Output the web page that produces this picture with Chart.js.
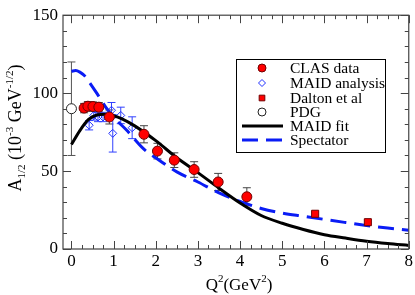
<!DOCTYPE html>
<html>
<head>
<meta charset="utf-8">
<script src="https://cdn.jsdelivr.net/npm/chart.js@4"></script>
<style>
  body { margin: 0; background: #fff; }
  canvas { display: block; }
</style>
</head>
<body>
<canvas id="chart" width="415" height="295"></canvas>
<script>
// CLAS data (red circles)
const clasQ2 = [0.30, 0.39, 0.51, 0.65, 0.90, 1.72, 2.04, 2.44, 2.91, 3.48, 4.16];
const clasA = [90.4, 91.6, 91.4, 91.0, 84.7, 73.6, 62.8, 57.0, 51.0, 43.0, 33.5];
const clasErr = [3, 3, 3, 3, 4.5, 5.5, 5, 4.7, 5, 5.5, 5.8];

// MAID analysis (open diamonds)
const maidQ2 = [0.42, 0.53, 0.63, 0.75, 0.95, 0.98, 1.17, 1.44];
const maidA = [79.4, 85.7, 84.7, 84.7, 89.0, 74.2, 85.7, 77.8];
const maidErr = [3, 3, 3, 3, 5, 12, 5.3, 7];

// Dalton et al (red squares)
const daltonQ2 = [5.78, 7.03];
const daltonA = [22.6, 17.2];

// PDG (open circle)
const pdgQ2 = [0];
const pdgA = [90];
const pdgErr = [30];

// MAID fit (black curve)
const fitQ2 = [0, 0.2, 0.4, 0.6, 0.8, 1.0, 1.2, 1.5, 2.0, 2.5, 3.0, 3.5, 4.0, 4.5, 5.0, 5.5, 6.0, 6.5, 7.0, 7.5, 8.0];
const fitA = [67, 76, 83, 86, 86.5, 85.5, 83.5, 79, 69.5, 58.5, 49, 39, 29.5, 21.5, 16.5, 12.5, 9.2, 7, 5, 3.5, 2.3];

// Spectator (blue dashed curve)
const specQ2 = [0, 0.1, 0.2, 0.3, 0.45, 0.6, 0.8, 1.0, 1.3, 1.7, 2.0, 2.5, 3.0, 3.5, 4.0, 4.5, 5.0, 5.5, 6.0, 6.5, 7.0, 7.5, 8.0];
const specA = [114, 114.5, 113.5, 111.5, 106, 100, 91.5, 84.5, 76.5, 64.5, 58.5, 49.5, 43, 36, 30.5, 26, 23, 21, 19, 17, 15, 13.5, 12];

// axis ticks
const xTicks = [0, 1, 2, 3, 4, 5, 6, 7, 8];
const yTicks = [0, 50, 100, 150];

const pts = (xs, ys) => xs.map((x, i) => ({ x: x, y: ys[i] }));
const serif = 'Liberation Serif';

// error bars, drawn under the markers
const errorBars = {
  id: 'errorBars',
  beforeDatasetsDraw(chart) {
    const ctx = chart.ctx;
    const xs = chart.scales.x, ys = chart.scales.y;
    chart.data.datasets.forEach(ds => {
      if (!ds.errors) return;
      ctx.save();
      ctx.strokeStyle = ds.errColor;
      ctx.lineWidth = 1;
      ds.data.forEach((p, i) => {
        const px = xs.getPixelForValue(p.x);
        const y1 = ys.getPixelForValue(p.y - ds.errors[i]);
        const y2 = ys.getPixelForValue(p.y + ds.errors[i]);
        ctx.beginPath();
        ctx.moveTo(px, y1); ctx.lineTo(px, y2);
        ctx.moveTo(px - 4, y1); ctx.lineTo(px + 4, y1);
        ctx.moveTo(px - 4, y2); ctx.lineTo(px + 4, y2);
        ctx.stroke();
      });
      ctx.restore();
    });
  }
};

// frame, inward ticks, axis titles and legend box
const decor = {
  id: 'decor',
  afterDraw(chart) {
    const ctx = chart.ctx;
    const a = chart.chartArea;
    const xs = chart.scales.x, ys = chart.scales.y;
    ctx.save();
    ctx.strokeStyle = '#444';
    ctx.lineWidth = 1.2;
    ctx.strokeRect(a.left, a.top, a.right - a.left, a.bottom - a.top);
    ctx.lineWidth = 1;
    ctx.beginPath();
    for (let v = 0; v <= 8.001; v += 0.25) {
      const px = Math.round(xs.getPixelForValue(v)) + 0.5;
      const len = Math.abs(v - Math.round(v)) < 1e-6 ? 8 : 4;
      ctx.moveTo(px, a.bottom); ctx.lineTo(px, a.bottom - len);
      ctx.moveTo(px, a.top); ctx.lineTo(px, a.top + len);
    }
    for (let v = 0; v <= 150; v += 10) {
      const py = Math.round(ys.getPixelForValue(v)) + 0.5;
      const len = v % 50 === 0 ? 8 : 4;
      ctx.moveTo(a.left, py); ctx.lineTo(a.left + len, py);
      ctx.moveTo(a.right, py); ctx.lineTo(a.right - len, py);
    }
    ctx.stroke();

    // rich text helper: parts = [text, size, shift]
    const drawParts = (parts, x, y) => {
      let w = 0;
      parts.forEach(p => { ctx.font = p[1] + 'px "' + serif + '"'; w += ctx.measureText(p[0]).width; });
      let cx = x - w / 2;
      parts.forEach(p => {
        ctx.font = p[1] + 'px "' + serif + '"';
        ctx.fillText(p[0], cx, y + p[2]);
        cx += ctx.measureText(p[0]).width;
      });
    };
    ctx.fillStyle = '#000';
    ctx.textBaseline = 'alphabetic';
    ctx.textAlign = 'left';
    drawParts([['Q', 17, 0], ['2', 11, -8], ['(GeV', 17, 0], ['2', 11, -8], [')', 17, 0]], 239, 290);

    ctx.save();
    ctx.translate(21, 128);
    ctx.rotate(-Math.PI / 2);
    drawParts([['A', 18, 0], ['1/2', 11, 4], [' (10', 18, 0], ['-3', 11, -8], [' GeV', 18, 0], ['-1/2', 11, -8], [')', 18, 0]], 0, 0);
    ctx.restore();

    // legend
    const lx = 236, ly = 59, lw = 149, lh = 93;
    ctx.fillStyle = '#fff';
    ctx.fillRect(lx, ly, lw, lh);
    ctx.strokeStyle = '#000';
    ctx.lineWidth = 1;
    ctx.strokeRect(lx + 0.5, ly + 0.5, lw, lh);
    const rows = [68, 83, 98, 112, 126, 140];
    chart.data.datasets.forEach((ds, i) => {
      const ry = rows[i];
      if (ds.showLine) {
        ctx.save();
        ctx.strokeStyle = ds.borderColor;
        ctx.lineWidth = ds.borderWidth;
        ctx.setLineDash(ds.borderDash || []);
        ctx.beginPath();
        ctx.moveTo(242, ry); ctx.lineTo(283, ry);
        ctx.stroke();
        ctx.restore();
      } else {
        ctx.save();
        ctx.fillStyle = ds.backgroundColor;
        ctx.strokeStyle = ds.borderColor;
        ctx.lineWidth = ds.borderWidth;
        Chart.helpers.drawPoint(ctx, { pointStyle: ds.pointStyle, radius: ds.legendRadius, rotation: 0, borderWidth: ds.borderWidth }, 262, ry);
        ctx.restore();
      }
      ctx.fillStyle = '#000';
      ctx.font = '15.5px "' + serif + '"';
      ctx.textBaseline = 'middle';
      ctx.fillText(ds.label, 290, ry + 1);
    });
    ctx.restore();
  }
};

new Chart(document.getElementById('chart'), {
  type: 'scatter',
  data: {
    datasets: [
      {
        label: 'CLAS data', data: pts(clasQ2, clasA), errors: clasErr, errColor: '#444',
        pointStyle: 'circle', pointRadius: 5, legendRadius: 4,
        backgroundColor: '#ff0000', borderColor: '#700000', borderWidth: 1, order: 1
      },
      {
        label: 'MAID analysis', data: pts(maidQ2, maidA), errors: maidErr, errColor: '#3040ff',
        pointStyle: 'rectRot', pointRadius: 4, legendRadius: 3.5,
        backgroundColor: 'rgba(255,255,255,0)', borderColor: '#2030ff', borderWidth: 1, order: 3
      },
      {
        label: 'Dalton et al', data: pts(daltonQ2, daltonA),
        pointStyle: 'rect', pointRadius: 5, legendRadius: 4,
        backgroundColor: '#ff0000', borderColor: '#700000', borderWidth: 1, order: 1
      },
      {
        label: 'PDG', data: pts(pdgQ2, pdgA), errors: pdgErr, errColor: '#555',
        pointStyle: 'circle', pointRadius: 5, legendRadius: 4,
        backgroundColor: '#fff', borderColor: '#222', borderWidth: 1, order: 1
      },
      {
        label: 'MAID fit', data: pts(fitQ2, fitA), showLine: true,
        borderColor: '#000', borderWidth: 3, pointRadius: 0,
        cubicInterpolationMode: 'monotone', order: 2
      },
      {
        label: 'Spectator', data: pts(specQ2, specA), showLine: true,
        borderColor: '#0a1cf5', borderWidth: 3, borderDash: [16, 8], pointRadius: 0,
        cubicInterpolationMode: 'monotone', order: 2
      }
    ]
  },
  options: {
    responsive: false,
    animation: false,
    layout: { padding: { top: 7, right: 4, left: 0, bottom: 0 } },
    plugins: { legend: { display: false }, tooltip: { enabled: false } },
    scales: {
      x: {
        type: 'linear', min: -0.2, max: 8,
        afterBuildTicks: s => { s.ticks = xTicks.map(v => ({ value: v })); },
        afterFit: s => { s.height = 46; },
        grid: { display: false, drawTicks: false },
        border: { display: false },
        ticks: { padding: 2, color: '#000', font: { family: serif, size: 17 }, maxRotation: 0 }
      },
      y: {
        type: 'linear', min: 0, max: 150,
        afterBuildTicks: s => { s.ticks = yTicks.map(v => ({ value: v })); },
        afterFit: s => { s.width = 63; },
        grid: { display: false, drawTicks: false },
        border: { display: false },
        ticks: { padding: 5, color: '#000', font: { family: serif, size: 17 } }
      }
    }
  },
  plugins: [errorBars, decor]
});
</script>
</body>
</html>
